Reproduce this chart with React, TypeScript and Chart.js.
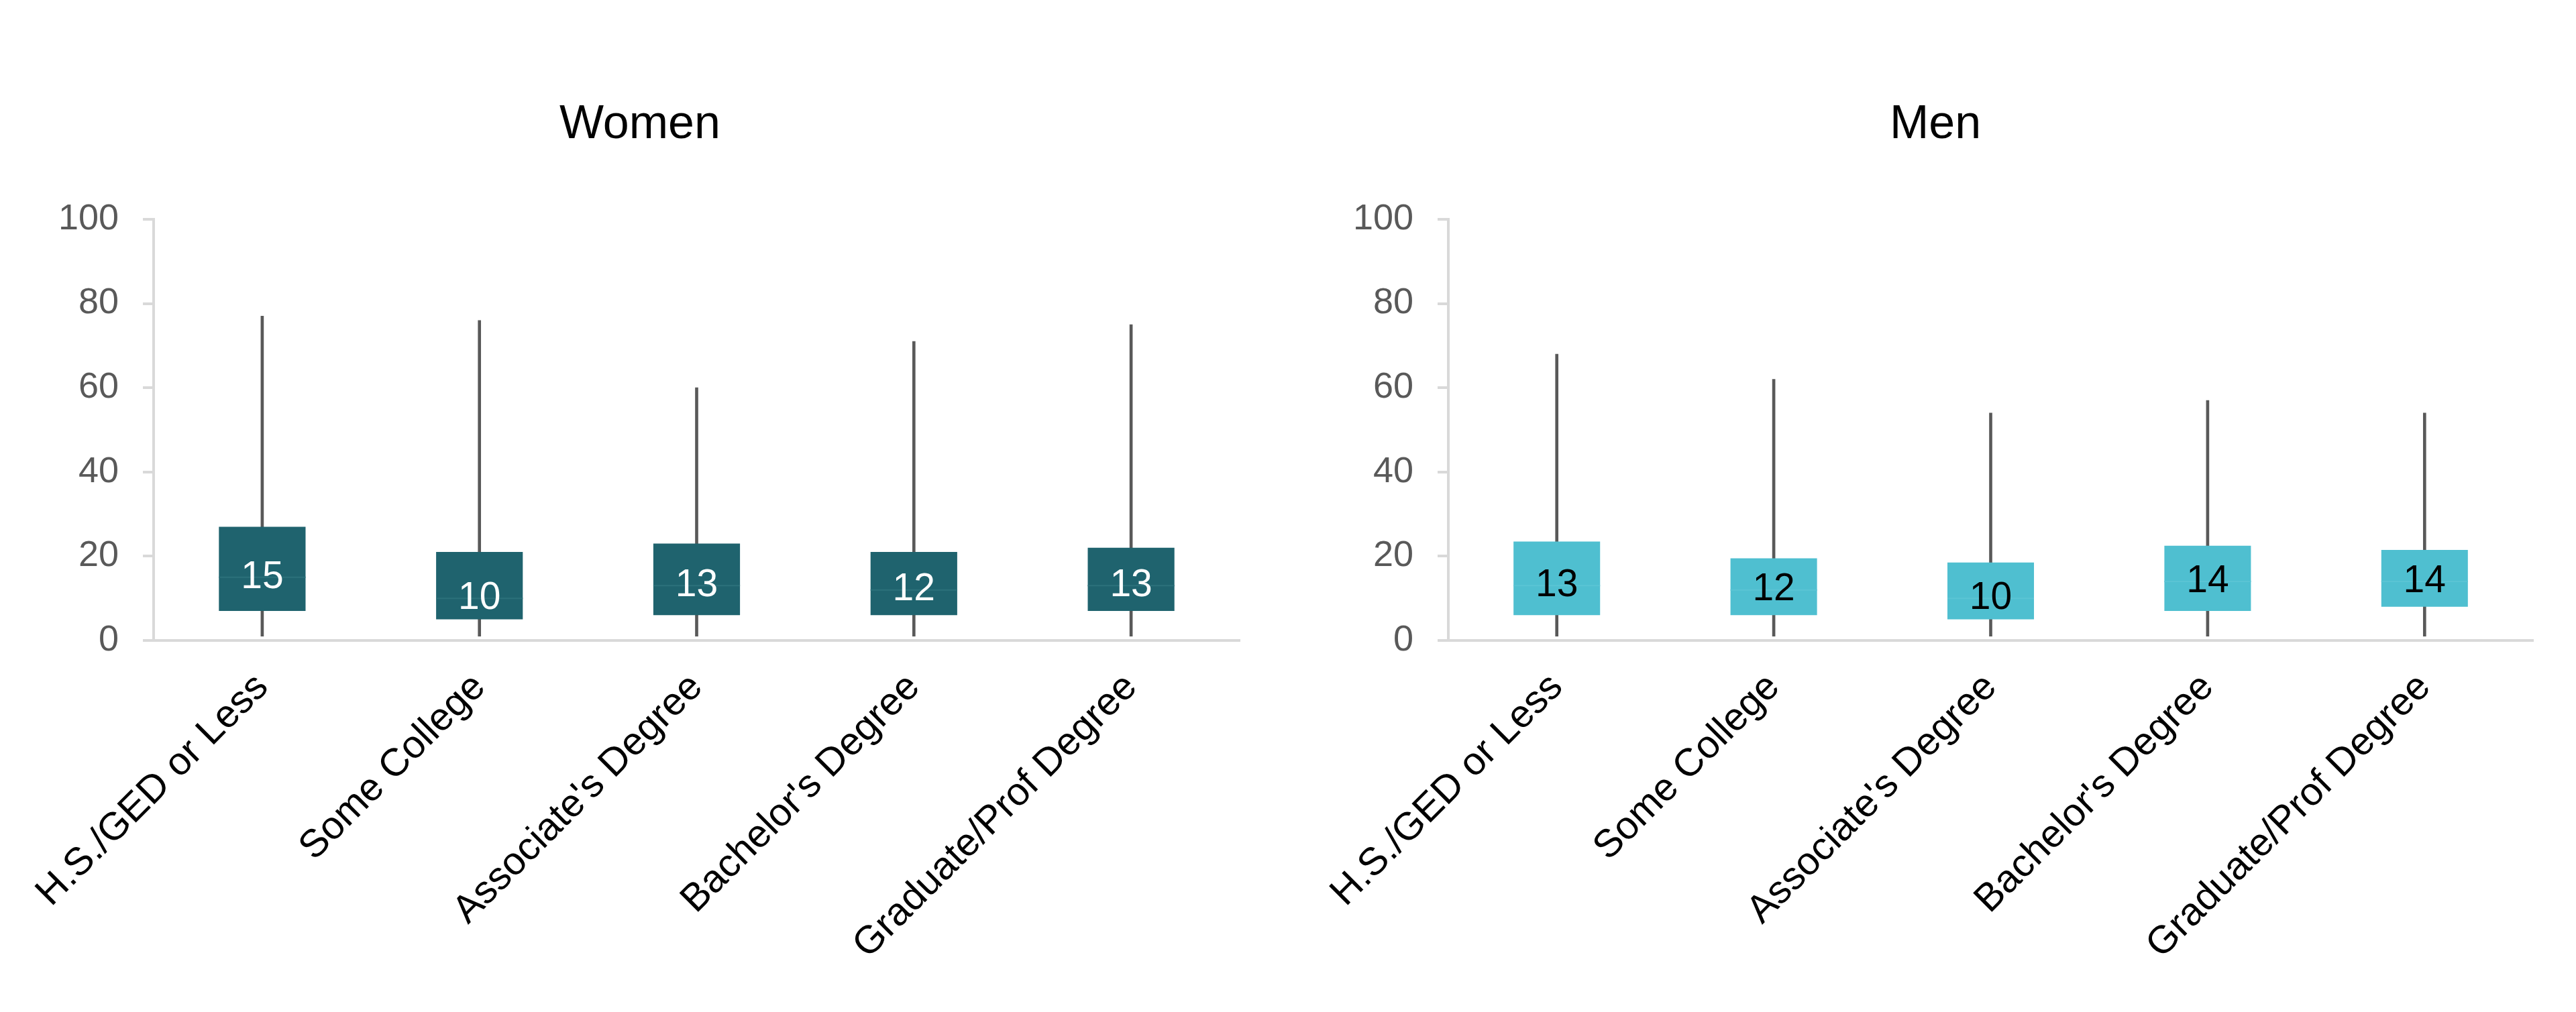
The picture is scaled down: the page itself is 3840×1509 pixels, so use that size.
import React, { useEffect, useRef } from "react";
import { Chart, registerables } from "chart.js";

Chart.register(...registerables);

const categories = [
  "H.S./GED or Less",
  "Some College",
  "Associate's Degree",
  "Bachelor's Degree",
  "Graduate/Prof Degree",
];
const yTickValues = [0, 20, 40, 60, 80, 100];

const womenMin = [1, 1, 1, 1, 1];
const womenQ1 = [7, 5, 6, 6, 7];
const womenMedian = [15, 10, 13, 12, 13];
const womenQ3 = [27, 21, 23, 21, 22];
const womenMax = [77, 76, 60, 71, 75];

const menMin = [1, 1, 1, 1, 1];
const menQ1 = [6, 6, 5, 7, 8];
const menMedian = [13, 12, 10, 14, 14];
const menQ3 = [23.5, 19.5, 18.5, 22.5, 21.5];
const menMax = [68, 62, 54, 57, 54];

const FONT = '"Liberation Sans", Arial, Helvetica, sans-serif';

type PanelSpec = {
  title: string;
  min: number[];
  q1: number[];
  median: number[];
  q3: number[];
  max: number[];
  boxColor: string;
  medianColor: string;
  textColor: string;
  padLeft: number;
  yWidth: number;
  padRight: number;
};

function makeMedianPlugin(spec: PanelSpec) {
  return {
    id: "medianLabels",
    afterDatasetsDraw(chart: any) {
      const { ctx, scales } = chart;
      const x = scales.x;
      const y = scales.y;
      const meta = chart.getDatasetMeta(0);
      spec.median.forEach((m, i) => {
        const bar = meta.data[i] as any;
        const half = bar ? bar.width / 2 : 60;
        const px = x.getPixelForValue(i);
        const py = y.getPixelForValue(m);
        ctx.save();
        ctx.strokeStyle = spec.medianColor;
        ctx.lineWidth = 2;
        ctx.beginPath();
        ctx.moveTo(px - half, py);
        ctx.lineTo(px + half, py);
        ctx.stroke();
        ctx.fillStyle = spec.textColor;
        ctx.font = `57px ${FONT}`;
        ctx.textAlign = "center";
        ctx.textBaseline = "middle";
        ctx.fillText(String(m), px, py);
        ctx.restore();
      });
    },
  };
}

function Panel({ spec }: { spec: PanelSpec }) {
  const ref = useRef<HTMLCanvasElement | null>(null);
  useEffect(() => {
    if (!ref.current) return;
    const chart = new Chart(ref.current, {
      type: "bar",
      data: {
        labels: categories,
        datasets: [
          {
            data: spec.q1.map((v, i) => [v, spec.q3[i]]) as any,
            backgroundColor: spec.boxColor,
            borderWidth: 0,
            grouped: false,
            categoryPercentage: 1,
            barPercentage: 0.399,
            order: 0,
          } as any,
          {
            data: spec.min.map((v, i) => [v, spec.max[i]]) as any,
            backgroundColor: "#595959",
            borderWidth: 0,
            grouped: false,
            barThickness: 4,
            order: 1,
          } as any,
        ],
      },
      options: {
        responsive: false,
        animation: false,
        events: [],
        layout: {
          padding: { left: spec.padLeft, right: spec.padRight, top: 0, bottom: 0 },
        },
        plugins: {
          legend: { display: false },
          tooltip: { enabled: false },
          title: {
            display: true,
            text: spec.title,
            color: "#000000",
            font: { family: FONT, size: 70, weight: "normal" as any },
            padding: { top: 145, bottom: 98 },
          },
        },
        scales: {
          x: {
            grid: { display: false, drawTicks: false },
            border: { display: true, color: "#D9D9D9", width: 4 },
            ticks: {
              color: "#000000",
              font: { family: FONT, size: 58 },
              minRotation: 45,
              maxRotation: 45,
              autoSkip: false,
              padding: 36,
            },
            afterFit: (s: any) => {
              s.height = 554;
            },
          },
          y: {
            min: 0,
            max: 100,
            afterBuildTicks: (s: any) => {
              s.ticks = yTickValues.map((v) => ({ value: v }));
            },
            ticks: {
              color: "#595959",
              font: { family: FONT, size: 54 },
              padding: 36,
            },
            grid: {
              drawOnChartArea: false,
              drawTicks: true,
              tickLength: 16,
              color: "#D9D9D9",
              lineWidth: 4,
            },
            border: { display: true, color: "#D9D9D9", width: 4 },
            afterFit: (s: any) => {
              s.width = spec.yWidth;
            },
          },
        },
      } as any,
      plugins: [makeMedianPlugin(spec) as any],
    });
    return () => chart.destroy();
  }, [spec]);
  return <canvas ref={ref} width={1920} height={1509} style={{ width: 1920, height: 1509, display: "block" }} />;
}

const womenSpec: PanelSpec = {
  title: "Women",
  min: womenMin,
  q1: womenQ1,
  median: womenMedian,
  q3: womenQ3,
  max: womenMax,
  boxColor: "#1F636E",
  medianColor: "#2C717B",
  textColor: "#FFFFFF",
  padLeft: 60,
  yWidth: 169,
  padRight: 72,
};

const menSpec: PanelSpec = {
  title: "Men",
  min: menMin,
  q1: menQ1,
  median: menMedian,
  q3: menQ3,
  max: menMax,
  boxColor: "#4FBFD0",
  medianColor: "#5AC4D4",
  textColor: "#000000",
  padLeft: 74,
  yWidth: 165,
  padRight: 64,
};

export default function App() {
  return (
    <div
      style={{
        position: "absolute",
        left: 0,
        top: 0,
        width: 3840,
        height: 1509,
        display: "flex",
        background: "#FFFFFF",
      }}
    >
      <Panel spec={womenSpec} />
      <Panel spec={menSpec} />
    </div>
  );
}
